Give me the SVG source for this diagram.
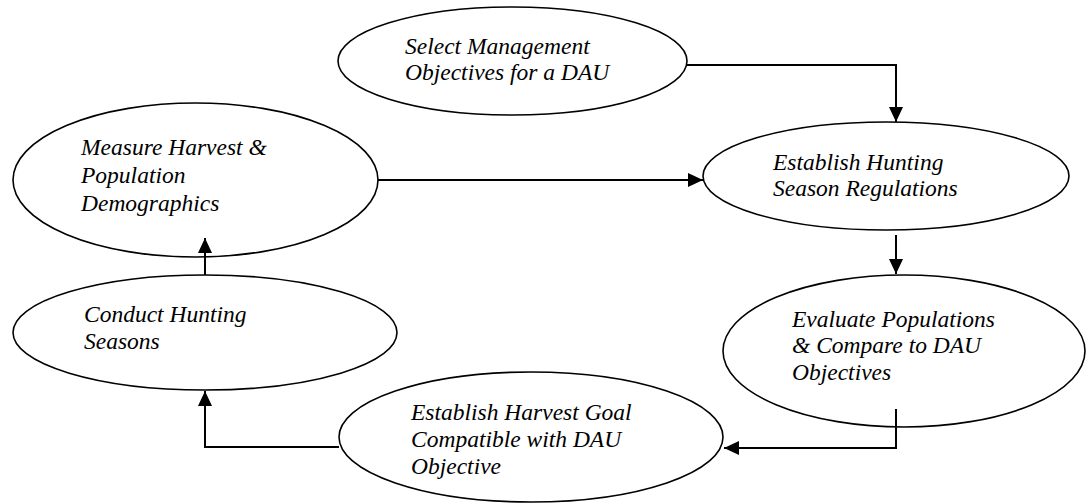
<svg xmlns="http://www.w3.org/2000/svg" width="1086" height="504" viewBox="0 0 1086 504">
<style>
.node ellipse{fill:#fff;stroke:#000;stroke-width:1.6}
.conn path{fill:none;stroke:#000;stroke-width:2;marker-end:url(#ah)}
</style>
<defs>
<marker id="ah" viewBox="0 0 15 14" refX="15" refY="7" markerWidth="15" markerHeight="14" orient="auto" markerUnits="userSpaceOnUse">
<path d="M0,0 L15,7 L0,14 Z" fill="#000"/>
</marker>
</defs>
<rect width="1086" height="504" fill="#fff"/>
<g font-family="Liberation Serif, Times New Roman, Times, serif" font-style="italic" font-size="23.5" fill="#000">
<g id="n-select" class="node">
<ellipse cx="512.5" cy="61" rx="174.5" ry="54"/>
<text x="405" y="54">Select Management</text>
<text x="405" y="80">Objectives for a DAU</text>
</g>
<g id="n-establish-hunting" class="node">
<ellipse cx="886" cy="176" rx="183" ry="54"/>
<text x="773" y="170">Establish Hunting</text>
<text x="773" y="196">Season Regulations</text>
</g>
<g id="n-evaluate" class="node">
<ellipse cx="904" cy="351" rx="181" ry="76"/>
<text x="792" y="327">Evaluate Populations</text>
<text x="792" y="353">&amp; Compare to DAU</text>
<text x="792" y="380">Objectives</text>
</g>
<g id="n-harvest-goal" class="node">
<ellipse cx="531" cy="437" rx="192" ry="65"/>
<text x="411" y="420">Establish Harvest Goal</text>
<text x="411" y="447">Compatible with DAU</text>
<text x="411" y="474">Objective</text>
</g>
<g id="n-conduct" class="node">
<ellipse cx="205" cy="332.5" rx="192" ry="57.5"/>
<text x="84" y="322">Conduct Hunting</text>
<text x="84" y="349">Seasons</text>
</g>
<g id="n-measure" class="node">
<ellipse cx="195.5" cy="180" rx="182.5" ry="77"/>
<text x="81" y="155">Measure Harvest &amp;</text>
<text x="81" y="183">Population</text>
<text x="81" y="211">Demographics</text>
</g>
</g>
<g id="connectors" class="conn">
<path d="M686,65 H896 V122"/>
<path d="M896,235 V274"/>
<path d="M896,409 V448 H724"/>
<path d="M339,447 H205 V391"/>
<path d="M205,275 V238"/>
<path d="M378,180 H703"/>
</g>
</svg>
